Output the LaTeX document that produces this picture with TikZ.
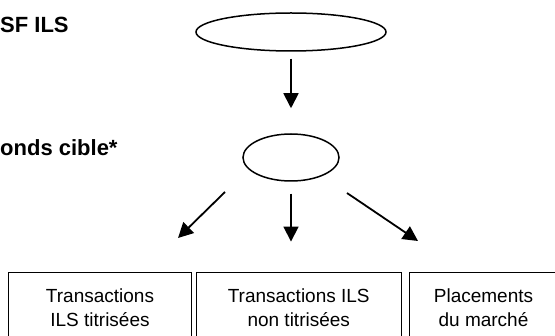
\documentclass[tikz,border=0pt]{standalone}
\usepackage{fontspec}
\setmainfont{Liberation Sans}
\usetikzlibrary{shapes.geometric,arrows.meta}

\begin{document}
\begin{tikzpicture}[x=1pt,y=-1pt,
    every node/.style={inner sep=0pt},
    oval/.style={ellipse,draw,line width=1.5pt},
    box/.style={rectangle,draw,line width=0.9pt,align=center,minimum height=72pt,font=\fontsize{19}{24}\selectfont},
    heading/.style={anchor=base west,font=\fontsize{22}{26}\selectfont\bfseries},
    flow/.style={-{Triangle[length=15pt,width=15pt]},line width=1.8pt}]
    \useasboundingbox (0,0) rectangle (555,336);
    %
    \node[heading] (sfils) at (0,33) {SF ILS};
    \node[heading] (fonds) at (0,155.5) {onds cible*};
    %
    \node[oval,minimum width=190pt,minimum height=38pt] (top) at (291,32) {};
    \node[oval,minimum width=96pt,minimum height=47pt] (mid) at (291,157.5) {};
    %
    \node[box,minimum width=183pt] (titr) at (100,308) {Transactions\\ILS titrisées};
    \node[box,minimum width=204.5pt] (nontitr) at (298.75,308) {Transactions ILS\\non titrisées};
    \node[box,minimum width=149pt] (marche) at (483.5,308) {Placements\\du marché};
    %
    \coordinate (l1) at (225,192);
    \coordinate (l2) at (178,238);
    \coordinate (r1) at (347,193);
    \coordinate (r2) at (418,241);
    %
    \draw[flow,shorten <=7pt,shorten >=25pt] (top) -- (mid);
    \draw[flow] (l1) -- (l2);
    \draw[flow,shorten <=12pt,shorten >=30pt] (mid) -- (mid |- nontitr.north);
    \draw[flow] (r1) -- (r2);
    %
\end{tikzpicture}
\end{document}
